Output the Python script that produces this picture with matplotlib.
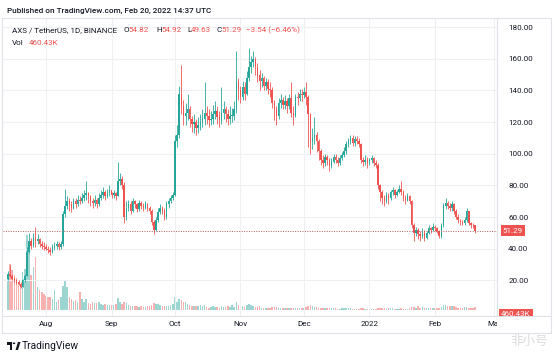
import matplotlib
matplotlib.use("Agg")
import matplotlib.pyplot as plt
import matplotlib.dates as mdates
import matplotlib.transforms as mtransforms
from matplotlib.patches import Rectangle, Polygon, Circle
import pandas as pd

# ---------------------------------------------------------------------------
# Data: AXS/USDT daily candles, 2021-07-14 .. 2022-02-20
# ---------------------------------------------------------------------------

START = "2021-07-14"
FIRST_OPEN = 21.0

closes = [
    # Jul 14-31
    24, 23, 21, 20, 19, 18, 16, 20, 23, 38, 45, 42, 47, 45, 46, 43, 42, 41,
    # Aug
    40, 39, 38, 41, 42, 43, 41, 43, 62, 67, 70, 68, 66, 70, 68, 71, 70, 72,
    74, 75, 73, 70, 69, 71, 68, 72, 74, 76, 73, 75, 77,
    # Sep
    74, 75, 73, 83, 84, 80, 60, 66, 68, 64, 70, 68, 65, 69, 67, 66, 68, 66,
    64, 57, 52, 58, 63, 66, 64, 60, 68, 70, 72, 74,
    # Oct
    108, 112, 138, 130, 124, 126, 128, 122, 119, 120, 116, 118, 120, 122, 126,
    124, 121, 122, 125, 127, 123, 121, 126, 128, 125, 122, 124, 124, 128, 145,
    140,
    # Nov
    136, 142, 138, 148, 155, 158, 160, 155, 150, 146, 148, 143, 145, 141, 140,
    132, 128, 124, 132, 134, 131, 133, 130, 135, 126, 124, 136, 135, 138, 137,
    # Dec
    139, 136, 125, 108, 110, 112, 108, 102, 96, 94, 98, 96, 92, 95, 98, 96,
    94, 97, 99, 102, 106, 108, 110, 107, 109, 108, 106, 96, 95, 96, 94,
    # Jan
    96, 97, 94, 93, 80, 76, 72, 70, 74, 72, 76, 77, 74, 76, 78, 76, 72, 71,
    73, 70, 55, 50, 52, 49, 48, 50, 47, 50, 53, 52, 54,
    # Feb 1-20
    53, 51, 48, 55, 67, 69, 67, 66, 68, 64, 60, 58, 57, 56, 58, 64, 56, 55,
    54.82, 51.29,
]

highs = [
    26, 30, 24, 22, 21, 20, 19, 21, 24, 41, 50, 47, 50, 54, 49, 47, 45, 44,
    43, 42, 41, 43, 44, 45, 44, 45, 64, 78, 73, 72, 70, 72, 72, 74, 73, 75,
    77, 83, 76, 74, 72, 74, 72, 75, 77, 79, 77, 78, 80,
    76, 77, 76, 95, 88, 86, 82, 70, 71, 70, 72, 71, 69, 71, 70, 69, 70, 69,
    67, 65, 58, 60, 66, 68, 67, 66, 70, 72, 74, 76,
    112, 118, 143, 156, 134, 132, 138, 130, 124, 125, 122, 123, 125, 128, 145,
    130, 128, 127, 131, 133, 130, 127, 142, 133, 130, 128, 130, 129, 133, 165,
    148,
    143, 146, 145, 152, 167, 162, 165, 161, 157, 153, 151, 149, 148, 147, 145,
    142, 134, 130, 135, 138, 136, 137, 135, 138, 145, 130, 138, 139, 141, 141,
    142, 145, 137, 126, 116, 123, 114, 109, 103, 99, 100, 99, 97, 97, 100,
    100, 98, 99, 101, 104, 108, 110, 112, 112, 111, 111, 110, 107, 98, 99, 98,
    97, 99, 98, 96, 94, 81, 77, 74, 76, 75, 77, 79, 78, 77, 80, 83, 77, 74,
    75, 74, 71, 56, 54, 53, 51, 53, 52, 51, 55, 54, 56,
    55, 54, 52, 56, 69, 72, 70, 69, 70, 69, 65, 62, 59, 58, 60, 66, 64, 57,
    56, 54.92,
]

lows = [
    20, 22, 20, 19, 18, 17, 15, 16, 19, 23, 37, 40, 41, 41, 43, 41, 40, 39,
    39, 37, 36, 37, 39, 40, 39, 40, 42, 60, 65, 64, 63, 65, 66, 67, 68, 69,
    70, 71, 69, 67, 66, 67, 66, 67, 71, 72, 71, 72, 73,
    72, 72, 71, 73, 80, 78, 56, 58, 64, 62, 63, 66, 63, 64, 65, 64, 65, 64,
    62, 55, 49, 51, 57, 62, 62, 58, 59, 66, 69, 71,
    73, 104, 110, 125, 118, 118, 121, 117, 114, 113, 112, 113, 115, 117, 118,
    119, 117, 118, 119, 122, 119, 117, 119, 122, 120, 118, 119, 120, 121, 126,
    134,
    132, 134, 134, 137, 146, 151, 155, 150, 145, 140, 142, 140, 140, 138, 136,
    129, 121, 118, 122, 129, 128, 128, 126, 128, 123, 118, 123, 131, 133, 133,
    135, 131, 104, 100, 103, 106, 101, 96, 93, 91, 92, 93, 89, 91, 94, 94,
    92, 93, 96, 98, 100, 104, 106, 105, 105, 106, 104, 94, 92, 93, 91,
    93, 94, 92, 91, 78, 70, 68, 67, 69, 68, 71, 74, 72, 73, 75, 74, 70, 68,
    70, 68, 53, 45, 48, 46, 45, 47, 45, 46, 49, 50, 51,
    51, 50, 47, 47, 54, 65, 65, 64, 64, 62, 59, 56, 55, 55, 55, 57, 55, 53,
    53, 49.63,
]

# volume in millions of AXS
volume_m = [
    6.8, 8.6, 7.4, 6.5, 5.9, 5.2, 4.6, 7.1, 7.7, 14, 11, 6.5, 8, 10, 4.3, 3.7,
    3.3, 3.0,
    2.6, 2.4, 2.4, 2.0, 3.7, 1.5, 1.8, 2.4, 4.5, 5.5, 4.2, 2.4, 2.0, 1.6, 1.8,
    1.5, 3.3, 2.0, 1.5, 2.1, 1.3, 1.1, 1.5, 1.2, 1.2, 1.4, 1.1, 0.9, 1.0, 0.9,
    0.8,
    0.8, 0.9, 1.0, 2.2, 1.4, 1.0, 1.5, 1.2, 0.9, 0.7, 0.6, 0.6, 0.7, 0.5, 0.6,
    0.5, 0.5, 0.6, 0.6, 0.9, 1.2, 1.0, 1.1, 0.8, 0.6, 0.6, 0.7, 0.6, 0.9, 1.0,
    2.4, 1.5, 2.1, 1.8, 1.5, 1.4, 1.0, 0.8, 0.6, 0.7, 0.6, 0.7, 0.8, 0.6, 0.9,
    0.5, 0.4, 0.5, 0.6, 0.5, 0.5, 0.4, 0.6, 0.5, 0.5, 0.7, 0.5, 0.8, 0.5, 1.5,
    0.9,
    0.6, 0.6, 0.5, 0.9, 1.1, 0.8, 0.6, 0.5, 0.5, 0.6, 0.4, 0.4, 0.3, 0.3, 0.4,
    0.5, 0.5, 0.5, 0.4, 0.3, 0.3, 0.3, 0.4, 0.3, 0.4, 0.4, 0.3, 0.3, 0.3, 0.4,
    0.4, 0.5, 0.7, 0.8, 0.6, 0.5, 0.5, 0.4, 0.4, 0.3, 0.3, 0.3, 0.3, 0.3, 0.3,
    0.3, 0.2, 0.2, 0.3, 0.3, 0.3, 0.3, 0.3, 0.2, 0.2, 0.2, 0.2, 0.3, 0.3, 0.2,
    0.2,
    0.2, 0.2, 0.2, 0.2, 0.4, 0.4, 0.3, 0.3, 0.2, 0.3, 0.3, 0.3, 0.2, 0.2, 0.2,
    0.3, 0.2, 0.2, 0.2, 0.3, 0.5, 0.5, 0.4, 0.6, 0.4, 0.5, 0.4, 0.3, 0.3, 0.3,
    0.4,
    0.4, 0.4, 0.4, 0.5, 0.8, 0.9, 0.7, 0.6, 0.7, 0.6, 0.5, 0.4, 0.4, 0.4, 0.5,
    0.5, 0.4, 0.3, 0.3, 0.46,
]

PRICE_TICKS = [20, 40, 60, 80, 100, 120, 140, 160, 180]
MONTHS = ["2021-08-01", "2021-09-01", "2021-10-01", "2021-11-01",
          "2021-12-01", "2022-01-01", "2022-02-01", "2022-03-01"]
MONTH_LABELS = ["Aug", "Sep", "Oct", "Nov", "Dec", "2022", "Feb", "Mar"]

HEADER_SYMBOL = "AXS / TetherUS, 1D, BINANCE"
LAST_OPEN, LAST_HIGH, LAST_LOW, LAST_CLOSE = 54.82, 54.92, 49.63, 51.29
CHANGE, CHANGE_PCT = -3.54, -6.46
LAST_VOL = "460.43K"

UP = "#26a69a"
DOWN = "#ef5350"
TEXT = "#131722"
GRID = "#eef0f4"
BORDER = "#dfe2e8"

W, H = 554, 358


def fx(px):
    return px / W


def fy(py):
    return 1 - py / H


plt.rcParams["font.family"] = ["Roboto", "DejaVu Sans"]

fig = plt.figure(figsize=(W / 100, H / 100), dpi=100, facecolor="white")

# chart pane: x 3..497 px, y 18..316 px
ax = fig.add_axes([fx(3), fy(316), fx(497) - fx(3), fy(18) - fy(316)])
axv = ax.twinx()
ax.set_zorder(axv.get_zorder() + 1)
ax.patch.set_visible(False)

dates = pd.date_range(START, periods=len(closes), freq="D")
xs = mdates.date2num(dates)
opens = [FIRST_OPEN] + closes[:-1]

aug1 = mdates.date2num(pd.Timestamp("2021-08-01"))
px_per_day = 2.114
ax.set_xlim(aug1 - 43 / px_per_day, aug1 + 451 / px_per_day)
ax.set_ylim(-2.5, 185.7)
axv.set_ylim(-1.2, 55)

colors = [UP if c >= o else DOWN for o, c in zip(opens, closes)]

# volume
axv.bar(xs, volume_m, width=0.7, color=colors, alpha=0.45, linewidth=0)
axv.set_yticks([])

# candles
ax.vlines(xs, lows, highs, colors=colors, linewidth=0.6)
bottoms = [min(o, c) for o, c in zip(opens, closes)]
heights = [max(abs(c - o), 0.4) for o, c in zip(opens, closes)]
ax.bar(xs, heights, bottom=bottoms, width=0.7, color=colors, linewidth=0)

# last price line
ax.axhline(LAST_CLOSE, color="#b25c5c", linewidth=0.7, linestyle=(0, (1, 1.5)))

# grid
month_x = mdates.date2num(pd.to_datetime(MONTHS))
ax.set_xticks(month_x)
ax.set_xticklabels([])
ax.set_yticks(PRICE_TICKS)
ax.grid(True, color=GRID, linewidth=0.8)
ax.set_axisbelow(True)
ax.tick_params(length=0)
ax.yaxis.tick_right()
ax.set_yticklabels([f"{v:.2f}" for v in PRICE_TICKS], fontsize=5.8,
                   color=TEXT)
ax.tick_params(axis="y", pad=8)

for a in (ax, axv):
    for sp in a.spines.values():
        sp.set_visible(False)
ax.spines["right"].set_visible(True)
ax.spines["right"].set_color(BORDER)
ax.spines["bottom"].set_visible(True)
ax.spines["bottom"].set_color(BORDER)

# month labels, clipped at the price scale like the original
clip = mtransforms.TransformedBbox(
    mtransforms.Bbox.from_extents(0, 0, fx(497), 1), fig.transFigure)
lab_tr = mtransforms.blended_transform_factory(ax.transData, fig.transFigure)
for mx, lab in zip(month_x, MONTH_LABELS):
    t = fig.text(mx, fy(324), lab, transform=lab_tr, ha="center",
                 va="center", fontsize=5.8, color=TEXT)
    t.set_clip_box(clip)
    t.set_clip_on(True)

# last price / volume tags on the price scale
tag_tr = mtransforms.blended_transform_factory(ax.transAxes, ax.transData)
ax.text(1.012, LAST_CLOSE, f"{LAST_CLOSE:.2f}", transform=tag_tr,
        ha="left", va="center", fontsize=5.8, color="white", clip_on=False,
        bbox=dict(boxstyle="square,pad=0.3", fc=DOWN, ec="none"))
vt = fig.text(fx(501), fy(314), LAST_VOL, ha="left", va="center",
              fontsize=5.8, color="white",
              bbox=dict(boxstyle="square,pad=0.3", fc=DOWN, ec="none"))
vt.set_clip_box(mtransforms.TransformedBbox(
    mtransforms.Bbox.from_extents(0, fy(316), 1, 1), fig.transFigure))
vt.set_clip_on(True)

# outer frame
fig.patches.append(Rectangle((fx(2), fy(333)), fx(551) - fx(2),
                             fy(18) - fy(333), transform=fig.transFigure,
                             fill=False, ec=BORDER, lw=0.8))
fig.lines.append(plt.Line2D([fx(497), fx(551)], [fy(316), fy(316)],
                            transform=fig.transFigure, color=BORDER, lw=0.8))

# header texts
fig.text(fx(7), fy(11), "Published on TradingView.com, Feb 20, 2022 14:37 UTC",
         fontsize=5.9, color=TEXT, va="center", fontweight="medium")
fig.text(fx(12), fy(30.5), HEADER_SYMBOL, fontsize=5.8, color=TEXT,
         va="center")
parts = [
    (124, "O", TEXT), (128.5, f"{LAST_OPEN:.2f}", DOWN),
    (156.5, "H", TEXT), (161, f"{LAST_HIGH:.2f}", DOWN),
    (187, "L", TEXT), (190.5, f"{LAST_LOW:.2f}", DOWN),
    (216.5, "C", TEXT), (221, f"{LAST_CLOSE:.2f}", DOWN),
    (246, f"\u2212{abs(CHANGE):.2f} (\u2212{abs(CHANGE_PCT):.2f}%)", DOWN),
]
for px, s, col in parts:
    fig.text(fx(px), fy(30.5), s, fontsize=5.8, color=col, va="center")
fig.text(fx(12), fy(43), "Vol", fontsize=5.8, color=TEXT, va="center")
fig.text(fx(29), fy(43), LAST_VOL, fontsize=5.8, color=DOWN, va="center")

# TradingView logo + wordmark
logo = [
    Rectangle((fx(7), fy(344.5)), fx(5), fy(342) - fy(344.5)),
    Rectangle((fx(9.5), fy(350)), fx(2.5), fy(344) - fy(350)),
    Circle((fx(14), fy(343.3)), 1.3 / W),
    Polygon([(fx(15.5), fy(350)), (fx(18), fy(342)), (fx(20.5), fy(342)),
             (fx(18), fy(350))]),
]
for p in logo:
    p.set_transform(fig.transFigure)
    p.set_facecolor(TEXT)
    p.set_edgecolor("none")
    fig.patches.append(p)
fig.text(fx(22), fy(346), "TradingView", fontsize=7.4, color=TEXT,
         va="center")

# faint site watermark
fig.text(fx(510), fy(341), "非小号", fontsize=9, color="#dcdcdc",
         va="center", family=["Noto Sans CJK SC", "DejaVu Sans"])

fig.savefig("out.png", dpi=100, facecolor="white")
